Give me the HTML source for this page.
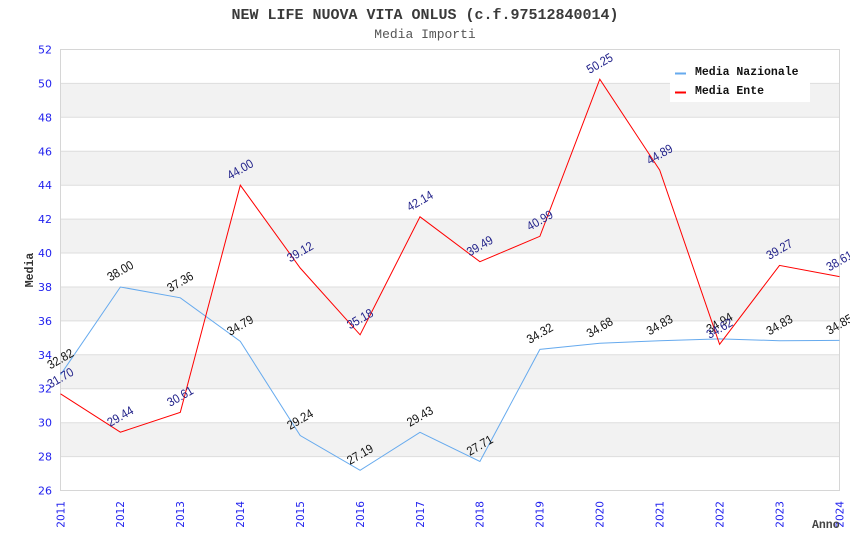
<!DOCTYPE html>
<html><head><meta charset="utf-8"><style>
html,body{margin:0;padding:0;background:#fff;}
svg{display:block;}
</style></head><body>
<svg width="850" height="550" viewBox="0 0 850 550" xmlns="http://www.w3.org/2000/svg">
<rect width="850" height="550" fill="#fff"/>
<!-- bands -->
<g fill="#f2f2f2">
<rect x="60.5" y="83.4" width="779" height="33.9"/>
<rect x="60.5" y="151.3" width="779" height="33.9"/>
<rect x="60.5" y="219.1" width="779" height="33.9"/>
<rect x="60.5" y="287" width="779" height="33.9"/>
<rect x="60.5" y="354.8" width="779" height="33.9"/>
<rect x="60.5" y="422.7" width="779" height="33.9"/>
</g>
<g stroke="#dddddd" stroke-width="1">
<line x1="60.5" y1="83.4" x2="839.5" y2="83.4"/>
<line x1="60.5" y1="117.3" x2="839.5" y2="117.3"/>
<line x1="60.5" y1="151.3" x2="839.5" y2="151.3"/>
<line x1="60.5" y1="185.2" x2="839.5" y2="185.2"/>
<line x1="60.5" y1="219.1" x2="839.5" y2="219.1"/>
<line x1="60.5" y1="253" x2="839.5" y2="253"/>
<line x1="60.5" y1="287" x2="839.5" y2="287"/>
<line x1="60.5" y1="320.9" x2="839.5" y2="320.9"/>
<line x1="60.5" y1="354.8" x2="839.5" y2="354.8"/>
<line x1="60.5" y1="388.7" x2="839.5" y2="388.7"/>
<line x1="60.5" y1="422.7" x2="839.5" y2="422.7"/>
<line x1="60.5" y1="456.6" x2="839.5" y2="456.6"/>
</g>
<rect x="60.5" y="49.5" width="779" height="441" fill="none" stroke="#d6d6d6" stroke-width="1"/>
<!-- y ticks -->
<g font-family="'DejaVu Sans', 'Liberation Sans', sans-serif" font-size="11" fill="#2222ee" text-anchor="end">
<text x="52" y="53.5">52</text>
<text x="52" y="87.4">50</text>
<text x="52" y="121.3">48</text>
<text x="52" y="155.3">46</text>
<text x="52" y="189.2">44</text>
<text x="52" y="223.1">42</text>
<text x="52" y="257">40</text>
<text x="52" y="291">38</text>
<text x="52" y="324.9">36</text>
<text x="52" y="358.8">34</text>
<text x="52" y="392.7">32</text>
<text x="52" y="426.7">30</text>
<text x="52" y="460.6">28</text>
<text x="52" y="494.5">26</text>
</g>
<!-- x ticks -->
<g font-family="'DejaVu Sans', 'Liberation Sans', sans-serif" font-size="10.5" fill="#2222ee" text-anchor="end">
<text transform="translate(64.3,501) rotate(-90)">2011</text>
<text transform="translate(124.2,501) rotate(-90)">2012</text>
<text transform="translate(184.1,501) rotate(-90)">2013</text>
<text transform="translate(244.1,501) rotate(-90)">2014</text>
<text transform="translate(304,501) rotate(-90)">2015</text>
<text transform="translate(363.9,501) rotate(-90)">2016</text>
<text transform="translate(423.8,501) rotate(-90)">2017</text>
<text transform="translate(483.7,501) rotate(-90)">2018</text>
<text transform="translate(543.7,501) rotate(-90)">2019</text>
<text transform="translate(603.6,501) rotate(-90)">2020</text>
<text transform="translate(663.5,501) rotate(-90)">2021</text>
<text transform="translate(723.4,501) rotate(-90)">2022</text>
<text transform="translate(783.3,501) rotate(-90)">2023</text>
<text transform="translate(843.3,501) rotate(-90)">2024</text>
</g>
<!-- titles -->
<text x="425" y="19" text-anchor="middle" font-family="'Liberation Mono', 'DejaVu Sans Mono', monospace" font-size="15" font-weight="bold" fill="#3a3a3a">NEW LIFE NUOVA VITA ONLUS (c.f.97512840014)</text>
<text x="425" y="38" text-anchor="middle" font-family="'Liberation Mono', 'DejaVu Sans Mono', monospace" font-size="13" fill="#555">Media Importi</text>
<text transform="translate(33,270) rotate(-90)" text-anchor="middle" font-family="'Liberation Mono', 'DejaVu Sans Mono', monospace" font-size="11.5" font-weight="bold" fill="#333">Media</text>
<text x="812" y="528" font-family="'Liberation Mono', 'DejaVu Sans Mono', monospace" font-size="11.5" font-weight="bold" fill="#444">Anno</text>
<!-- series -->
<polyline fill="none" stroke="#66aaee" stroke-width="1" points="60.5,374.8 120.4,287 180.3,297.8 240.3,341.4 300.2,435.5 360.1,470.3 420,432.3 479.9,461.5 539.9,349.4 599.8,343.3 659.7,340.7 719.6,338.9 779.5,340.7 839.5,340.4"/>
<polyline fill="none" stroke="#ff0000" stroke-width="1" points="60.5,393.8 120.4,432.2 180.3,412.3 240.3,185.2 300.2,268 360.1,334.8 420,216.8 479.9,261.7 539.9,236.3 599.8,79.2 659.7,170.1 719.6,344.3 779.5,265.4 839.5,276.6"/>
<!-- labels nazionale -->
<g font-family="'Liberation Sans', 'DejaVu Sans', sans-serif" font-size="12.5" fill="#111" text-anchor="middle" dominant-baseline="central">
<text transform="translate(60.5,359) rotate(-30)" textLength="28" lengthAdjust="spacingAndGlyphs">32.82</text>
<text transform="translate(120.4,271) rotate(-30)" textLength="28" lengthAdjust="spacingAndGlyphs">38.00</text>
<text transform="translate(180.3,282) rotate(-30)" textLength="28" lengthAdjust="spacingAndGlyphs">37.36</text>
<text transform="translate(240.3,325.5) rotate(-30)" textLength="28" lengthAdjust="spacingAndGlyphs">34.79</text>
<text transform="translate(300.2,419.5) rotate(-30)" textLength="28" lengthAdjust="spacingAndGlyphs">29.24</text>
<text transform="translate(360.1,454.5) rotate(-30)" textLength="28" lengthAdjust="spacingAndGlyphs">27.19</text>
<text transform="translate(420,416.5) rotate(-30)" textLength="28" lengthAdjust="spacingAndGlyphs">29.43</text>
<text transform="translate(479.9,445.5) rotate(-30)" textLength="28" lengthAdjust="spacingAndGlyphs">27.71</text>
<text transform="translate(539.9,333.5) rotate(-30)" textLength="28" lengthAdjust="spacingAndGlyphs">34.32</text>
<text transform="translate(599.8,327.5) rotate(-30)" textLength="28" lengthAdjust="spacingAndGlyphs">34.68</text>
<text transform="translate(659.7,325) rotate(-30)" textLength="28" lengthAdjust="spacingAndGlyphs">34.83</text>
<text transform="translate(719.6,323) rotate(-30)" textLength="28" lengthAdjust="spacingAndGlyphs">34.94</text>
<text transform="translate(779.5,325) rotate(-30)" textLength="28" lengthAdjust="spacingAndGlyphs">34.83</text>
<text transform="translate(839.5,324.5) rotate(-30)" textLength="28" lengthAdjust="spacingAndGlyphs">34.85</text>
</g>
<!-- labels ente -->
<g font-family="'Liberation Sans', 'DejaVu Sans', sans-serif" font-size="12.5" fill="#22228a" text-anchor="middle" dominant-baseline="central">
<text transform="translate(60.5,378) rotate(-30)" textLength="28" lengthAdjust="spacingAndGlyphs">31.70</text>
<text transform="translate(120.4,416.5) rotate(-30)" textLength="28" lengthAdjust="spacingAndGlyphs">29.44</text>
<text transform="translate(180.3,396.5) rotate(-30)" textLength="28" lengthAdjust="spacingAndGlyphs">30.61</text>
<text transform="translate(240.3,169.5) rotate(-30)" textLength="28" lengthAdjust="spacingAndGlyphs">44.00</text>
<text transform="translate(300.2,252) rotate(-30)" textLength="28" lengthAdjust="spacingAndGlyphs">39.12</text>
<text transform="translate(360.1,319) rotate(-30)" textLength="28" lengthAdjust="spacingAndGlyphs">35.18</text>
<text transform="translate(420,201) rotate(-30)" textLength="28" lengthAdjust="spacingAndGlyphs">42.14</text>
<text transform="translate(479.9,246) rotate(-30)" textLength="28" lengthAdjust="spacingAndGlyphs">39.49</text>
<text transform="translate(539.9,220.5) rotate(-30)" textLength="28" lengthAdjust="spacingAndGlyphs">40.99</text>
<text transform="translate(599.8,63.5) rotate(-30)" textLength="28" lengthAdjust="spacingAndGlyphs">50.25</text>
<text transform="translate(659.7,154.5) rotate(-30)" textLength="28" lengthAdjust="spacingAndGlyphs">44.89</text>
<text transform="translate(719.6,328.5) rotate(-30)" textLength="28" lengthAdjust="spacingAndGlyphs">34.62</text>
<text transform="translate(779.5,249.5) rotate(-30)" textLength="28" lengthAdjust="spacingAndGlyphs">39.27</text>
<text transform="translate(839.5,261) rotate(-30)" textLength="28" lengthAdjust="spacingAndGlyphs">38.61</text>
</g>
<!-- legend -->
<rect x="670" y="61" width="140" height="41" fill="#fff"/>
<rect x="675" y="72.5" width="11" height="2" fill="#66aaee"/>
<rect x="675" y="91.5" width="11" height="2" fill="#ff0000"/>
<g font-family="'Liberation Mono', 'DejaVu Sans Mono', monospace" font-size="11.5" font-weight="bold" fill="#111">
<text x="695" y="75">Media Nazionale</text>
<text x="695" y="94">Media Ente</text>
</g>
</svg>
</body></html>
